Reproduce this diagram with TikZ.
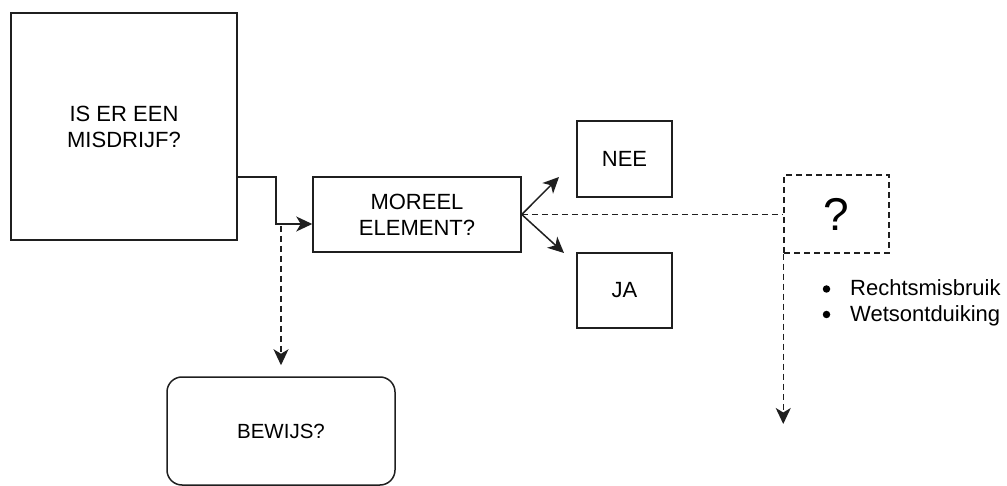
\documentclass[tikz,border=0pt]{standalone}
\usepackage{fontspec}
\setmainfont{Liberation Sans}
\usetikzlibrary{arrows.meta}
\definecolor{ink}{gray}{0.12}
\begin{document}
\begin{tikzpicture}[x=1pt,y=1pt,
  box/.style={draw=ink,line width=1.5pt,inner sep=0pt,align=center,font=\fontsize{22}{26}\selectfont},
  qbox/.style={draw=ink,line width=1.5pt,inner sep=0pt,dash pattern=on 6pt off 4pt},
  conn/.style={line width=1.5pt,draw=ink},
  dconn/.style={conn,dash pattern=on 6pt off 4pt},
  arrowhd/.style={-{Stealth[length=16pt,width=15pt,inset=4.5pt]}},
  dot/.style={circle,fill=black,inner sep=0pt,minimum size=7.5pt},
  txt/.style={inner sep=0pt,font=\fontsize{22}{26}\selectfont}]
\useasboundingbox (0,-486) rectangle (1007,0);
\node[box,minimum width=226pt,minimum height=227pt] (misdrijf) at (124,-126.5) {IS ER EEN\\MISDRIJF?};
\node[box,minimum width=208pt,minimum height=75pt] (moreel) at (417,-214.5) {MOREEL\\ELEMENT?};
\node[box,minimum width=95pt,minimum height=76pt] (nee) at (624.5,-159) {NEE};
\node[box,minimum width=95pt,minimum height=75pt] (ja) at (624.5,-290.5) {JA};
\node[box,rounded corners=15pt,minimum width=228pt,minimum height=108pt,font=\fontsize{20.5}{24}\selectfont] (bewijs) at (281,-431) {BEWIJS?};
\node[qbox,minimum width=105pt,minimum height=78pt,font=\fontsize{46}{50}\selectfont] (q) at (836.5,-214) {?};
\node[dot] (b1) at (826.5,-289) {};
\node[txt,anchor=base west] (r1) at (850,-296) {Rechtsmisbruik};
\node[dot] (b2) at (826.5,-314.5) {};
\node[txt,anchor=base west] (r2) at (850,-321.5) {Wetsontduiking};
\coordinate (t1) at (276,-177);
\coordinate (t2) at (276,-224);
\coordinate (d0) at (281,-226);
\coordinate (neeend) at (559,-177);
\coordinate (jaend) at (564,-253);
\coordinate (qend) at (784,-424);
\draw[conn,arrowhd] (misdrijf.east |- t1) -- (t1) -- (t2) -- (moreel.west |- t2);
\draw[dconn,arrowhd,shorten >=11pt] (d0) -- (bewijs.north);
\draw[conn,arrowhd] (moreel.east) -- (neeend);
\draw[conn,arrowhd] (moreel.east) -- (jaend);
\draw[dconn] (moreel.east) -- (q.west |- moreel.east);
\draw[dconn,arrowhd] (q.south west) -- (q.south west |- qend);
\end{tikzpicture}
\end{document}
